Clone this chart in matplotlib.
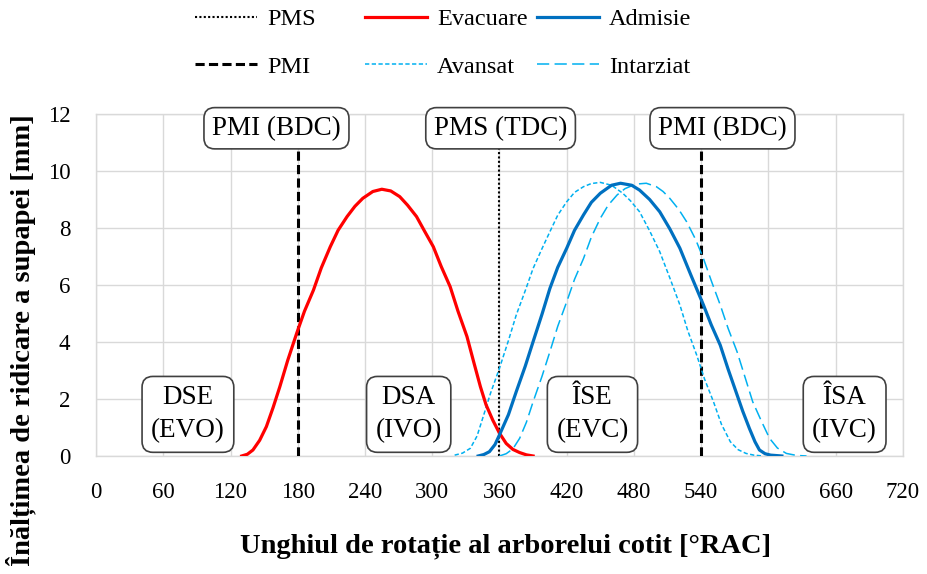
import matplotlib
matplotlib.use("Agg")
import matplotlib.pyplot as plt

plt.rcParams['font.family'] = ['Liberation Serif', 'DejaVu Serif']

# ---- data ----
evac_angle = [130, 135, 140, 146, 152, 158, 164, 171, 179, 186, 194, 201, 209, 216, 224, 231, 238, 247, 255,
              263, 271, 278, 286, 293, 301, 308, 316, 323, 331, 337, 343, 348, 354, 360, 366, 372, 378, 384, 390]
evac_lift = [0.0, 0.06, 0.21, 0.55, 1.03, 1.70, 2.43, 3.35, 4.30, 5.08, 5.82, 6.60, 7.34, 7.92, 8.40, 8.76, 9.04, 9.28, 9.36,
             9.30, 9.10, 8.80, 8.40, 7.90, 7.34, 6.65, 5.94, 5.08, 4.19, 3.30, 2.43, 1.80, 1.26, 0.80, 0.44, 0.23, 0.12, 0.04, 0.0]

adm_angle = [341, 346, 351, 356, 360, 368, 375, 383, 390, 398, 405, 412, 420, 427, 435, 442, 450, 460, 468,
             478, 485, 494, 503, 512, 521, 531, 542, 549, 557, 564, 571, 577, 583, 588, 592, 597, 602, 612]
adm_lift = [0.0, 0.05, 0.15, 0.40, 0.74, 1.45, 2.26, 3.15, 4.01, 4.98, 5.88, 6.62, 7.29, 7.92, 8.46, 8.90, 9.22, 9.50, 9.57,
            9.50, 9.33, 9.00, 8.57, 7.97, 7.29, 6.33, 5.30, 4.60, 3.89, 3.05, 2.26, 1.58, 0.97, 0.50, 0.21, 0.08, 0.03, 0.0]

av_angle = [320, 327, 334, 340, 345, 352, 360, 368, 375, 383, 390, 398, 405, 412, 420, 427, 435, 442, 450, 460,
            470, 477, 485, 494, 503, 512, 521, 528, 536, 543, 551, 558, 566, 573, 580, 587, 595]
av_lift = [0.03, 0.10, 0.27, 0.70, 1.32, 2.20, 3.08, 4.05, 4.95, 5.80, 6.58, 7.28, 7.87, 8.45, 8.92, 9.25, 9.45, 9.56, 9.60, 9.50,
           9.22, 8.95, 8.57, 7.90, 7.17, 6.25, 5.30, 4.40, 3.54, 2.70, 1.90, 1.12, 0.50, 0.22, 0.09, 0.03, 0.0]

int_angle = [360, 366, 372, 378, 384, 390, 398, 405, 412, 420, 427, 435, 442, 450, 457, 465, 472, 478, 485, 491,
             500, 506, 512, 520, 527, 535, 542, 549, 557, 564, 572, 579, 586, 594, 601, 608, 616, 625, 634]
int_lift = [0.0, 0.08, 0.25, 0.62, 1.18, 1.90, 2.80, 3.66, 4.55, 5.41, 6.20, 6.93, 7.68, 8.34, 8.80, 9.16, 9.38, 9.48, 9.55, 9.57,
            9.45, 9.28, 9.04, 8.65, 8.22, 7.60, 6.93, 6.15, 5.30, 4.48, 3.66, 2.78, 1.90, 1.20, 0.62, 0.28, 0.09, 0.02, 0.0]

pms_angle = [360]
pmi_angle = [180, 540]

x_ticks = [0, 60, 120, 180, 240, 300, 360, 420, 480, 540, 600, 660, 720]
y_ticks = [0, 2, 4, 6, 8, 10, 12]

top_labels = ["PMI (BDC)", "PMS (TDC)", "PMI (BDC)"]
top_label_x = [161, 361, 559]
bottom_labels = ["DSE\n(EVO)", "DSA\n(IVO)", "ÎSE\n(EVC)", "ÎSA\n(IVC)"]
bottom_label_x = [82, 279, 443, 668]

x_label = "Unghiul de rotație al arborelui cotit [°RAC]"
y_label = "Înălțimea de ridicare a supapei [mm]"

# ---- figure ----
fig = plt.figure(figsize=(9.27, 5.74), dpi=100)
ax = fig.add_subplot(111)
fig.subplots_adjust(left=0.1036, right=0.974, bottom=0.2056, top=0.8014)

grid_c = '#D9D9D9'
ax.set_xlim(0, 720)
ax.set_ylim(0, 12)
ax.set_xticks(x_ticks)
ax.set_yticks(y_ticks)
ax.grid(True, color=grid_c, linewidth=1.0)
ax.set_axisbelow(True)
for s in ax.spines.values():
    s.set_color(grid_c)
    s.set_linewidth(1.0)
ax.tick_params(axis='x', length=0, pad=19, labelsize=16.5)
ax.tick_params(axis='y', length=0, pad=18.5, labelsize=16.5)

pms_lines = [ax.axvline(a, color='black', lw=1.5, linestyle=(0, (1, 1.1)), zorder=3) for a in pms_angle]
pmi_lines = [ax.axvline(a, color='black', lw=2.2, linestyle=(0, (3, 1.4)), zorder=3) for a in pmi_angle]

l_av, = ax.plot(av_angle, av_lift, color='#00B0F0', lw=1.1, linestyle=(0, (2.8, 1.6)), zorder=4)
l_int, = ax.plot(int_angle, int_lift, color='#00B0F0', lw=1.1, linestyle=(0, (8, 3.5)), zorder=4)
l_evac, = ax.plot(evac_angle, evac_lift, color='#FF0000', lw=2.3, zorder=5, solid_joinstyle='round')
l_adm, = ax.plot(adm_angle, adm_lift, color='#0070C0', lw=2.3, zorder=5, solid_joinstyle='round')

box = dict(boxstyle='round,pad=0.3,rounding_size=0.4', facecolor='white',
           edgecolor='#404040', linewidth=1.2)
for t, xv in zip(top_labels, top_label_x):
    ax.text(xv, 11.5, t, ha='center', va='center', fontsize=19.5, bbox=box,
            zorder=10, clip_on=False)
box2 = dict(boxstyle='round,pad=0.33,rounding_size=0.4', facecolor='white',
            edgecolor='#404040', linewidth=1.2)
for t, xv in zip(bottom_labels, bottom_label_x):
    ax.text(xv, 1.46, t, ha='center', va='center', fontsize=19.5, bbox=box2,
            zorder=10, linespacing=1.42, multialignment='center')

ax.set_xlabel(x_label, fontsize=20.5, fontweight='bold')
ax.xaxis.set_label_coords(0.507, -0.225)
fig.text(21 / 927, 1 - 340 / 574, y_label, rotation=90, ha='center', va='center',
         fontsize=20.5, fontweight='bold')

leg_kw = dict(frameon=False, fontsize=17.5, handlelength=2.55, handletextpad=0.42,
              labelspacing=1.05, borderpad=0, borderaxespad=0, loc='center left')
cols = [([pms_lines[0], pmi_lines[0]], ["PMS", "PMI"], 195),
        ([l_evac, l_av], ["Evacuare", "Avansat"], 365),
        ([l_adm, l_int], ["Admisie", "Intarziat"], 537)]
for handles, labels, xpx in cols:
    fig.legend(handles, labels, bbox_to_anchor=(xpx / 927, 1 - 43 / 574), **leg_kw)

fig.savefig('out.png', dpi=100)
